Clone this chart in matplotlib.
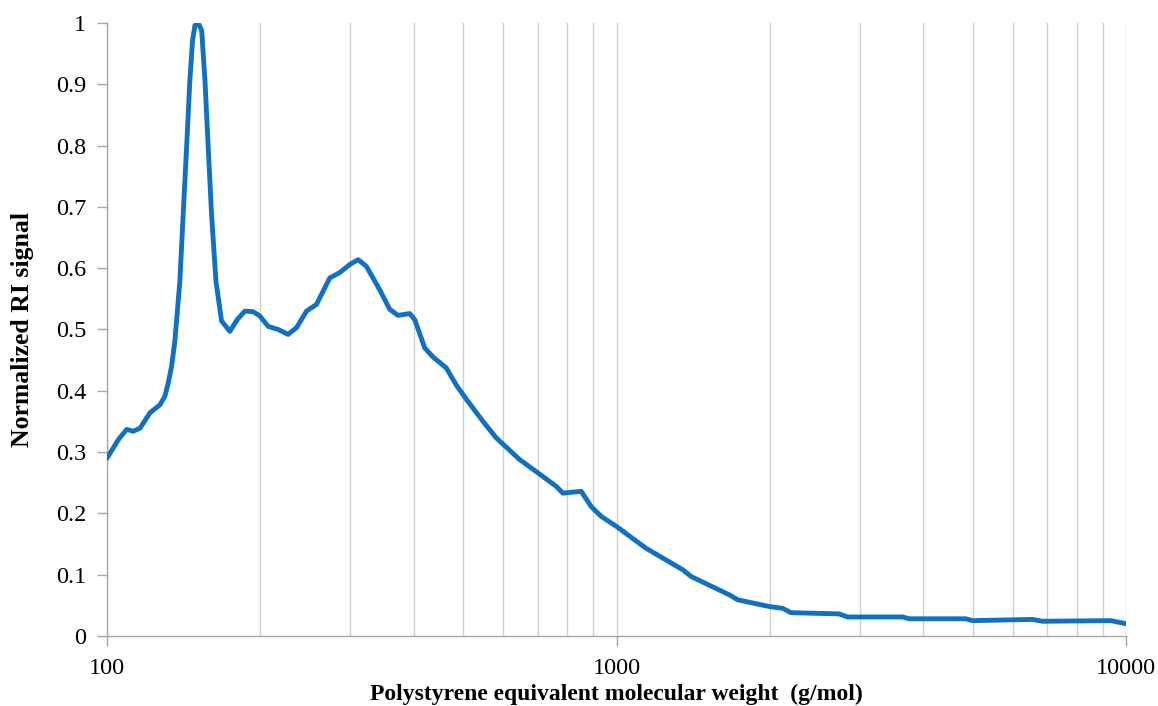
import matplotlib
matplotlib.use('Agg')
import matplotlib.pyplot as plt
from matplotlib.ticker import FixedLocator, NullFormatter, FuncFormatter

# molecular weight (g/mol) and normalized RI signal
mw = [100, 105.2, 109.3, 112.6, 116.1, 121.4, 127, 129.9, 131.9, 133.9, 135.9,
      139.0, 141.1, 143.3, 145.4, 147.2, 148.8, 151, 153.4, 155.7, 158, 160.4,
      163.6, 167.8, 174.2, 180.1, 186.5,
      193.6, 199.5, 207.2, 216.7, 226.7, 235.5, 246.4, 257.8, 273.6, 286.4,
      299.6, 311.1, 322.9, 342.8, 358.8, 372.6, 392.7, 401.8, 420.3, 436.5,
      463.6, 485.1, 507.5, 547, 581, 645, 660, 761.7, 784.8, 852.5, 891.9,
      933.2, 998.6, 1109, 1143, 1349, 1401, 1666, 1729, 1995, 2119, 2200,
      2735, 2841, 3642, 3753, 4849, 4995, 6549, 6855, 9336, 10000]
ri = [0.290, 0.320, 0.337, 0.334, 0.339, 0.364, 0.377, 0.391, 0.413, 0.440, 0.481,
      0.579, 0.688, 0.797, 0.906, 0.971, 0.996, 1.0, 0.988, 0.906, 0.797, 0.688,
      0.579, 0.514, 0.497, 0.516, 0.530,
      0.529, 0.522, 0.505, 0.500, 0.492, 0.503, 0.530, 0.541, 0.584, 0.593,
      0.606, 0.614, 0.603, 0.565, 0.533, 0.523, 0.526, 0.516, 0.470, 0.455,
      0.437, 0.409, 0.386, 0.350, 0.323, 0.288, 0.282, 0.244, 0.233, 0.236, 0.211,
      0.195, 0.179, 0.151, 0.143, 0.108, 0.097, 0.067, 0.059, 0.048, 0.045, 0.038,
      0.036, 0.031, 0.031, 0.028, 0.028, 0.025, 0.027, 0.024, 0.025, 0.020]

x_major = [100, 1000, 10000]
y_ticks = [0, 0.1, 0.2, 0.3, 0.4, 0.5, 0.6, 0.7, 0.8, 0.9, 1]

plt.rcParams['font.family'] = ['Liberation Serif', 'DejaVu Serif']

fig = plt.figure(figsize=(11.58, 7.06), dpi=100)
ax = fig.add_axes([0.0924, 0.0992, 0.8800, 0.8682])

ax.plot(mw, ri, color='#1170BF', linewidth=3.5, solid_joinstyle='round',
        solid_capstyle='round', zorder=3)

ax.set_xscale('log')
ax.set_xlim(100, 10000)
ax.set_ylim(0, 1)

ax.xaxis.set_major_locator(FixedLocator(x_major))
ax.xaxis.set_major_formatter(FuncFormatter(lambda v, p: '%d' % v))
minor = [m * d for d in (100, 1000) for m in range(2, 10)]
ax.xaxis.set_minor_locator(FixedLocator(minor))
ax.xaxis.set_minor_formatter(NullFormatter())
ax.set_yticks(y_ticks)
ax.yaxis.set_major_formatter(FuncFormatter(lambda v, p: '%g' % v))

ax.grid(True, axis='x', which='both', color='#D0D0D0', linewidth=1.0, zorder=0)
ax.grid(False, axis='y')

for s in ('top', 'right'):
    ax.spines[s].set_visible(False)
for s in ('left', 'bottom'):
    ax.spines[s].set_color('#A6A6A6')
    ax.spines[s].set_linewidth(1.0)

ax.tick_params(axis='both', which='major', direction='out', length=7, width=1,
               color='#A6A6A6', labelsize=17.5, labelcolor='black')
ax.tick_params(axis='x', which='major', pad=9)
ax.tick_params(axis='y', which='major', pad=8)
ax.tick_params(axis='x', which='minor', length=0)

ax.set_xlabel('Polystyrene equivalent molecular weight  (g/mol)', fontsize=17,
              fontweight='bold', labelpad=3)
ax.set_ylabel('Normalized RI signal', fontsize=18.5, fontweight='bold', labelpad=16)

plt.savefig('out.png', dpi=100, facecolor='white')
